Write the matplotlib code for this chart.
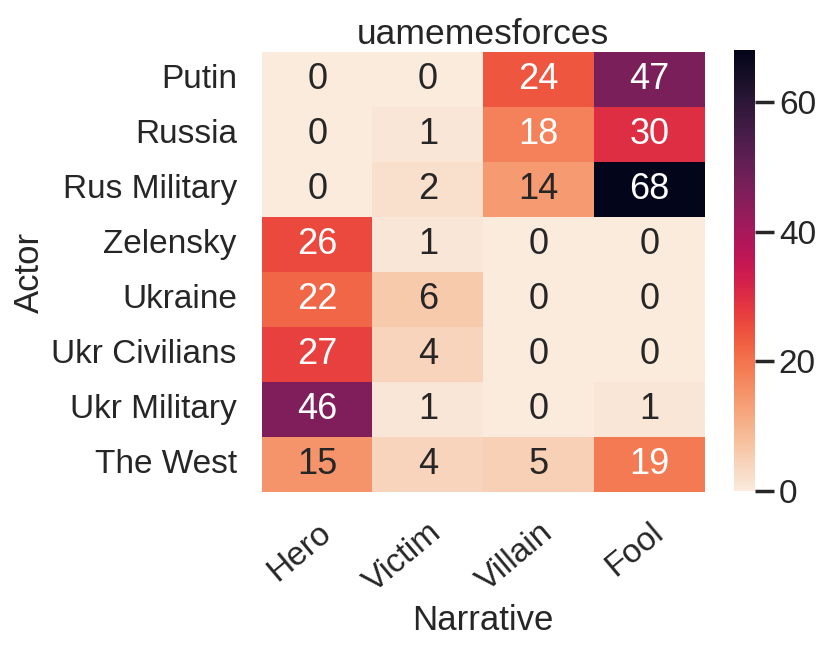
import numpy as np
import pandas as pd
import seaborn as sns
import matplotlib.pyplot as plt

actors = ["Putin", "Russia", "Rus Military", "Zelensky", "Ukraine",
          "Ukr Civilians", "Ukr Military", "The West"]
narratives = ["Hero", "Victim", "Villain", "Fool"]
hero = [0, 0, 0, 26, 22, 27, 46, 15]
victim = [0, 1, 2, 1, 6, 4, 1, 4]
villain = [24, 18, 14, 0, 0, 0, 0, 5]
fool = [47, 30, 68, 0, 0, 0, 1, 19]

df = pd.DataFrame({"Hero": hero, "Victim": victim, "Villain": villain, "Fool": fool},
                  index=actors)[narratives]

sns.set_theme(style="white")
plt.rcParams['font.family'] = ['Liberation Sans', 'DejaVu Sans']
plt.rcParams['font.size'] = 25

fig = plt.figure(figsize=(8.31, 6.52), dpi=100)
ax = fig.add_axes([0.315, 0.2454, 0.533, 0.675])
cax = fig.add_axes([0.883, 0.2469, 0.025, 0.676])
sns.heatmap(df, annot=True, fmt="d", cmap="rocket_r", ax=ax, cbar_ax=cax,
            vmin=0, annot_kws={"size": 26})
ax.set_title("uamemesforces", fontsize=25.5, pad=6)
ax.set_xlabel("Narrative", fontsize=25, labelpad=4)
ax.set_ylabel("Actor", fontsize=25, labelpad=4)
ax.tick_params(labelsize=24, length=0, pad=18)
plt.setp(ax.get_xticklabels(), rotation=40, ha="right", rotation_mode="anchor")
plt.setp(ax.get_yticklabels(), rotation=0)
cax.set_yticks([0, 20, 40, 60])
cax.tick_params(length=14, width=2.5, labelsize=24, color="#262626")
fig.savefig("out.png")
